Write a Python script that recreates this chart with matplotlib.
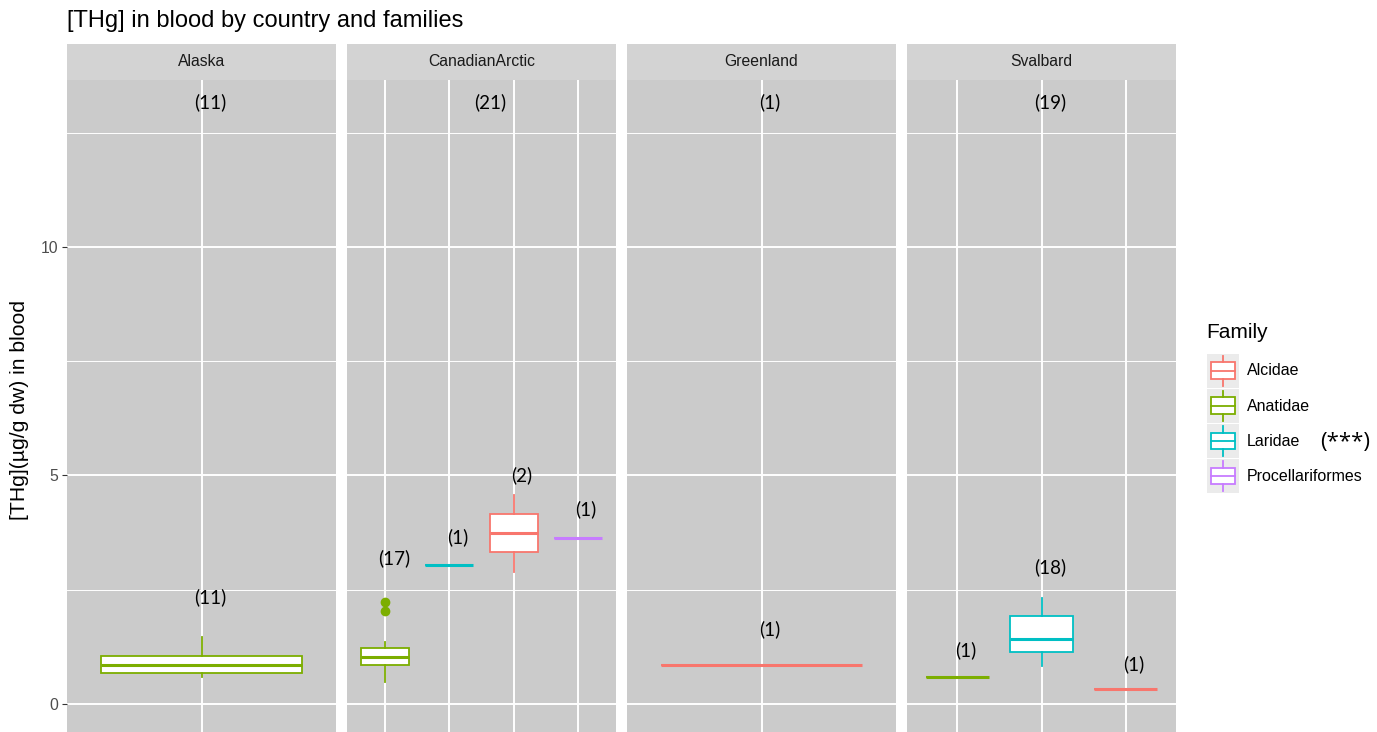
import matplotlib.pyplot as plt
from matplotlib.legend_handler import HandlerBase
from matplotlib.patches import Rectangle
from matplotlib.lines import Line2D

# facets and families
countries = ["Alaska", "CanadianArctic", "Greenland", "Svalbard"]
families = ["Alcidae", "Anatidae", "Laridae", "Procellariformes"]
family_colors = {"Alcidae": "#F8766D", "Anatidae": "#7CAE00",
                 "Laridae": "#00BFC4", "Procellariformes": "#C77CFF"}

# boxes per facet, in x order
panel_families = [["Anatidae"],
                  ["Anatidae", "Laridae", "Alcidae", "Procellariformes"],
                  ["Alcidae"],
                  ["Anatidae", "Laridae", "Alcidae"]]
whis_lo = [[0.58], [0.49, 3.04, 2.89, 3.62], [0.85], [0.58, 0.82, 0.32]]
q1 = [[0.68], [0.85, 3.04, 3.32, 3.62], [0.85], [0.58, 1.13, 0.32]]
med = [[0.86], [1.03, 3.04, 3.73, 3.62], [0.85], [0.58, 1.42, 0.32]]
q3 = [[1.05], [1.22, 3.04, 4.16, 3.62], [0.85], [0.58, 1.93, 0.32]]
whis_hi = [[1.46], [1.35, 3.04, 4.57, 3.62], [0.85], [0.58, 2.31, 0.32]]
fliers = [[[]], [[2.22, 2.03], [], [], []], [[]], [[], [], []]]

# sample size labels
n_total = [11, 21, 1, 19]
n_group = [[11], [17, 1, 2, 1], [1], [1, 18, 1]]
n_group_y = [[2.34], [3.19, 3.65, 5.01, 4.27], [1.64], [1.18, 3.0, 0.88]]
n_total_y = 13.17

W, H = 1377, 732
fig = plt.figure(figsize=(W / 100, H / 100), dpi=100)

panel_bg = "#CBCBCB"
strip_bg = "#D3D3D3"
label_font = ["Lato", "DejaVu Sans"]
base_font = ["Liberation Sans", "DejaVu Sans"]
plt.rcParams["font.family"] = base_font

for i, country in enumerate(countries):
    left = 67 + i * 280
    ax = fig.add_axes([left / W, 0, 269 / W, (H - 80) / H])
    ax.set_facecolor(panel_bg)
    n = len(panel_families[i])
    positions = list(range(1, n + 1))
    width = 0.9 if n == 1 else 0.75
    for j, fam in enumerate(panel_families[i]):
        c = family_colors[fam]
        stats = [dict(whislo=whis_lo[i][j], q1=q1[i][j], med=med[i][j],
                      q3=q3[i][j], whishi=whis_hi[i][j], fliers=fliers[i][j])]
        ax.bxp(stats, positions=[positions[j]], widths=width, patch_artist=True,
               showcaps=False, manage_ticks=False,
               boxprops=dict(facecolor="white", edgecolor=c, linewidth=1.3),
               medianprops=dict(color=c, linewidth=2.2),
               whiskerprops=dict(color=c, linewidth=1.3),
               flierprops=dict(marker="o", markerfacecolor=c, markeredgecolor=c,
                               markersize=6))
        ax.annotate(f"({n_group[i][j]})", (positions[j], n_group_y[i][j]),
                    xytext=(6, 0), textcoords="offset points",
                    ha="center", va="center", fontsize=13.5, family=label_font)
    ax.annotate(f"({n_total[i]})", ((n + 1) / 2, n_total_y),
                xytext=(6, 0), textcoords="offset points",
                ha="center", va="center", fontsize=13.5, family=label_font)

    ax.set_xlim(0.4, n + 0.6)
    ax.set_ylim(-0.613, 13.65)
    ax.set_xticks(positions)
    ax.set_yticks([0, 5, 10])
    ax.set_yticks([2.5, 7.5, 12.5], minor=True)
    ax.grid(True, which="major", color="white", linewidth=1.4)
    ax.grid(True, which="minor", axis="y", color="white", linewidth=0.7)
    ax.set_axisbelow(True)
    for s in ax.spines.values():
        s.set_visible(False)
    ax.tick_params(axis="x", length=0, labelbottom=False)
    ax.tick_params(axis="y", which="minor", length=0)
    if i == 0:
        ax.tick_params(axis="y", length=3.5, color="#333333",
                       labelcolor="#4D4D4D", labelsize=11.3, pad=3)
    else:
        ax.tick_params(axis="y", length=0, labelleft=False)

    # facet strip
    sax = fig.add_axes([left / W, (H - 80) / H, 269 / W, 36 / H])
    sax.set_facecolor(strip_bg)
    sax.set_xticks([])
    sax.set_yticks([])
    for s in sax.spines.values():
        s.set_visible(False)
    sax.text(0.5, 0.5, country, ha="center", va="center", fontsize=11.3,
             color="#1A1A1A", transform=sax.transAxes)

fig.text(67 / W, 1 - 21 / H, "[THg] in blood by country and families",
         ha="left", va="center", fontsize=17, color="black")
fig.text(20 / W, 1 - 410 / H, "[THg](µg/g dw) in blood", rotation=90,
         ha="center", va="center", fontsize=15.2, color="black")


class BoxKeyHandler(HandlerBase):
    def create_artists(self, legend, orig_handle, xdescent, ydescent,
                       width, height, fontsize, trans):
        c = orig_handle.get_edgecolor()
        x0, y0 = -xdescent, -ydescent
        bg = Rectangle((x0, y0), width, height, facecolor="#EBEBEB",
                       edgecolor="none", transform=trans)
        box = Rectangle((x0 + 0.12 * width, y0 + 0.25 * height), 0.76 * width,
                        0.5 * height, facecolor="white", edgecolor=c,
                        linewidth=1.3, transform=trans)
        mid = Line2D([x0 + 0.12 * width, x0 + 0.88 * width],
                     [y0 + 0.5 * height] * 2, color=c, linewidth=1.3,
                     transform=trans)
        w1 = Line2D([x0 + 0.5 * width] * 2, [y0 + 0.05 * height, y0 + 0.25 * height],
                    color=c, linewidth=1.3, transform=trans)
        w2 = Line2D([x0 + 0.5 * width] * 2, [y0 + 0.75 * height, y0 + 0.95 * height],
                    color=c, linewidth=1.3, transform=trans)
        return [bg, box, mid, w1, w2]


handles = [Rectangle((0, 0), 1, 1, edgecolor=family_colors[f], facecolor="white")
           for f in families]
fig.text(1206 / W, 1 - 333 / H, "Family", ha="left", va="center", fontsize=15)
leg = fig.legend(handles, families, loc="upper left",
                 bbox_to_anchor=(1207 / W, 1 - 354 / H), frameon=False,
                 fontsize=11.5, handlelength=2.0,
                 handleheight=2.85, labelspacing=0.1, handletextpad=0.5,
                 borderpad=0, borderaxespad=0,
                 handler_map={Rectangle: BoxKeyHandler()})

fig.text(1320 / W, 1 - 443 / H, "(***)", ha="left", va="center",
         fontsize=16, family=["Open Sans", "DejaVu Sans"])

fig.savefig("out.png", dpi=100)
